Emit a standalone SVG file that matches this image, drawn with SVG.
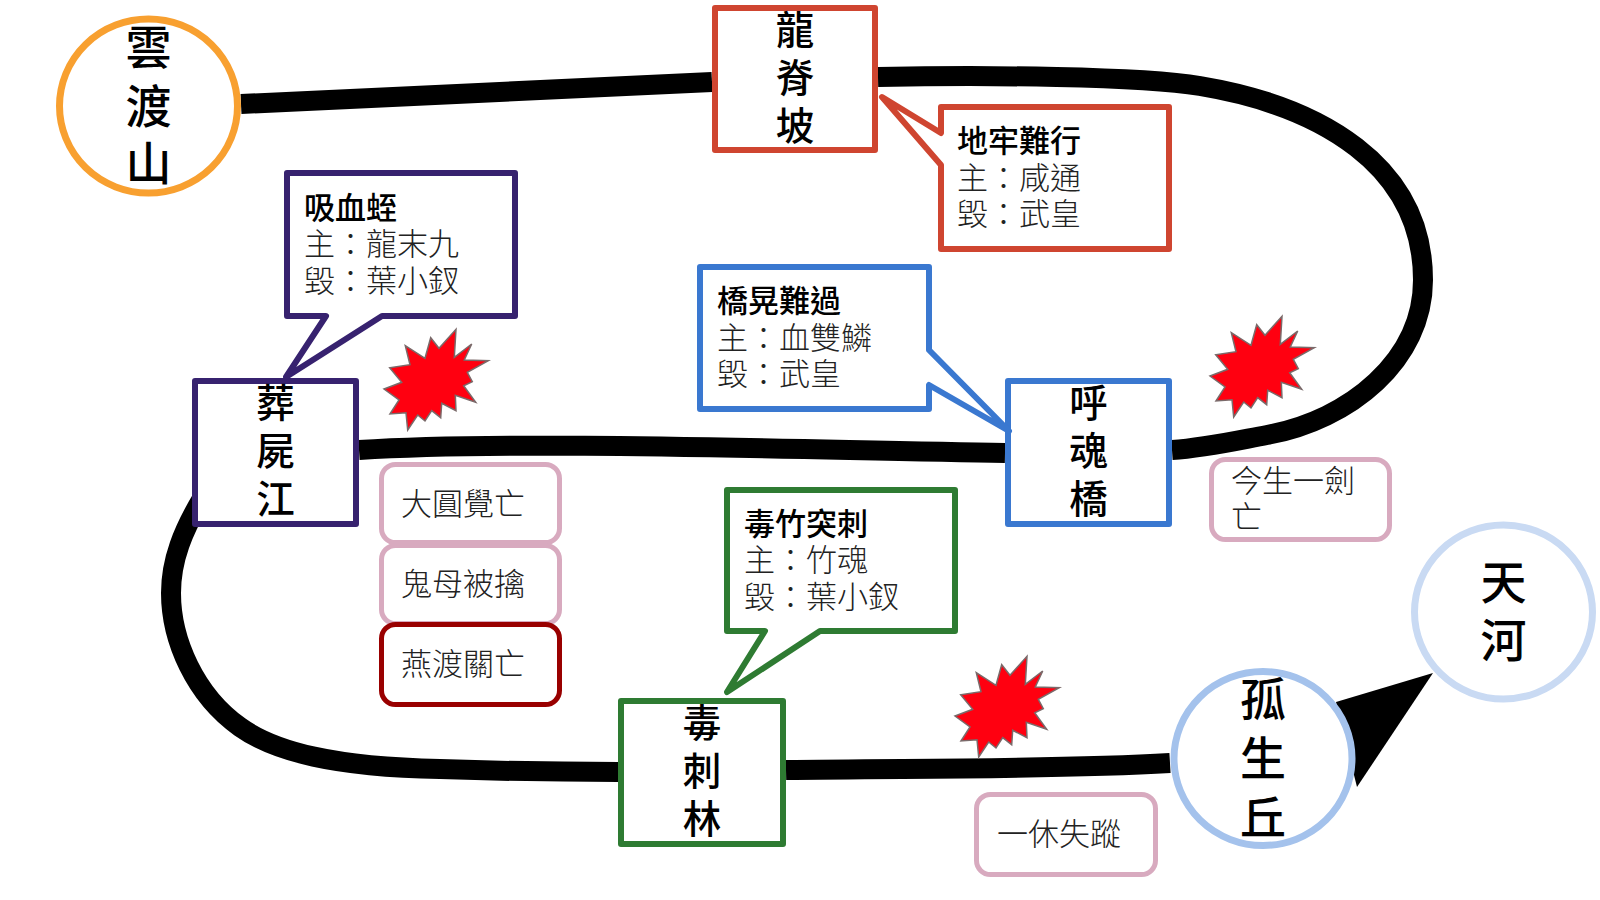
<svg xmlns="http://www.w3.org/2000/svg" xmlns:xlink="http://www.w3.org/1999/xlink" width="1600" height="900" viewBox="0 0 1600 900">
<style>
text{font-family:"Noto Sans CJK TC","Noto Sans CJK SC",sans-serif;fill:#000}
.t{font-size:38.500px;font-weight:500;text-anchor:middle}
.c{font-size:46px;font-weight:500;text-anchor:middle}
.h{font-size:31px;font-weight:500}
.b{font-size:31px;font-weight:300;fill:#222}
.n{fill:#fff;stroke-width:6;stroke-linejoin:round}
.e{fill:#fff;stroke-width:7}
.p{fill:#fff;stroke-width:5}
.line{fill:none;stroke:#000;stroke-width:20}
.star{fill:#ff0010;stroke:#7a6a6a;stroke-width:1.5}
</style>
<defs>
<polygon id="burst" points="81,9.3 79.3,37.3 96.7,24 89.3,40 113.3,40.7 92.3,52.3 97.3,61.7 88.7,65.7 100.7,82.3 80.3,75.3 81,90.7 66.7,83.3 65.7,97.7 56.7,90.7 50,101 42.7,95 32.7,110 31,92.7 15,94 24,80 9,69 26.7,62.3 14.7,47.7 35,44.7 30.3,25.7 50,38.3 55.7,17.7 64,28.3"/>
</defs>
<g id="connectors">
<path class="line" d="M241 104L712 82"/>
<path class="line" d="M878 77C985 75 1140 76 1200 86C1320 106 1423 165 1423 280C1423 360 1350 420 1267 435C1235 441 1205 448 1172 450"/>
<path class="line" d="M1005 453C800 450 520 440 359 450"/>
<path class="line" d="M203 497C183 530 171 560 171 593C171 640 195 695 240 727C275 752 335 767 440 769C500 771 560 772 618 772"/>
<path class="line" d="M786 770C900 768 1050 770 1170 763"/>
<polygon points="1336,702 1433,673 1357,787" fill="#000"/>
</g>
<g id="yundushan"><ellipse class="e" cx="148.500" cy="106" rx="89" ry="87" stroke="#f8a030"/><text class="c" x="148.500" y="64">雲</text><text class="c" x="148.500" y="123">渡</text><text class="c" x="148.500" y="180">山</text></g>
<g id="longjipo"><rect class="n" x="715" y="8" width="160" height="142" stroke="#cf4530"/><text class="t" x="795" y="44">龍</text><text class="t" x="795" y="92">脊</text><text class="t" x="795" y="140">坡</text></g>
<g id="zangshijiang"><rect class="n" x="195" y="381" width="161" height="143" stroke="#37226f"/><text class="t" x="275.500" y="417">葬</text><text class="t" x="275.500" y="465">屍</text><text class="t" x="275.500" y="513">江</text></g>
<g id="huhunqiao"><rect class="n" x="1008" y="381" width="161" height="143" stroke="#3a78d0"/><text class="t" x="1088.500" y="417">呼</text><text class="t" x="1088.500" y="465">魂</text><text class="t" x="1088.500" y="513">橋</text></g>
<g id="ducilin"><rect class="n" x="621" y="701" width="162" height="143" stroke="#2e7b32"/><text class="t" x="702" y="737">毒</text><text class="t" x="702" y="785">刺</text><text class="t" x="702" y="833">林</text></g>
<g id="gushengqiu"><ellipse class="e" cx="1263" cy="758.500" rx="89" ry="87" stroke="#a4c2ec"/><text class="c" x="1263" y="716">孤</text><text class="c" x="1263" y="775">生</text><text class="c" x="1263" y="834">丘</text></g>
<g id="tianhe"><ellipse class="e" cx="1503.500" cy="612" rx="89" ry="87" stroke="#c9daf3"/><text class="c" x="1503.500" y="599">天</text><text class="c" x="1503.500" y="657">河</text></g>
<g id="callout-xixuezhi"><path class="n" d="M287 173H515V316H382L286 377L326 316H287Z" stroke="#37226f"/><text class="h" x="304" y="219">吸血蛭</text><text class="b" x="304" y="255">主：龍末九</text><text class="b" x="304" y="292">毀：葉小釵</text></g>
<g id="callout-dilao"><path class="n" d="M941 107H1169V249H941V165L882 97L941 133Z" stroke="#cf4530"/><text class="h" x="957" y="152">地牢難行</text><text class="b" x="957" y="189">主：咸通</text><text class="b" x="957" y="225">毀：武皇</text></g>
<g id="callout-qiaohuang"><path class="n" d="M700 267H929V350L1009 431L929 385V409H700Z" stroke="#3a78d0"/><text class="h" x="717" y="312">橋晃難過</text><text class="b" x="717" y="349">主：血雙鱗</text><text class="b" x="717" y="385">毀：武皇</text></g>
<g id="callout-duzhu"><path class="n" d="M727 490H955V631H820L727 692L765 631H727Z" stroke="#2e7b32"/><text class="h" x="744" y="535">毒竹突刺</text><text class="b" x="744" y="571">主：竹魂</text><text class="b" x="744" y="608">毀：葉小釵</text></g>
<g id="tag-dayuanjue"><rect class="p" x="381.500" y="464.500" width="178" height="78" rx="14" stroke="#d8aabf"/><text class="b" x="401" y="515">大圓覺亡</text></g>
<g id="tag-guimu"><rect class="p" x="381.500" y="545.500" width="178" height="78" rx="14" stroke="#d8aabf"/><text class="b" x="401" y="595">鬼母被擒</text></g>
<g id="tag-yandu"><rect class="p" x="381.500" y="624.500" width="178" height="80" rx="14" stroke="#990000"/><text class="b" x="401" y="675">燕渡關亡</text></g>
<g id="tag-jinsheng"><rect class="p" x="1211.500" y="459.500" width="178" height="80" rx="14" stroke="#d8aabf"/><text class="b" x="1231" y="492">今生一劍</text><text class="b" x="1231" y="528">亡</text></g>
<g id="tag-yixiu"><rect class="p" x="976.500" y="794.500" width="179" height="80" rx="14" stroke="#d8aabf"/><text class="b" x="997" y="845">一休失蹤</text></g>
<use xlink:href="#burst" href="#burst" class="star" x="375" y="320"/>
<use xlink:href="#burst" href="#burst" class="star" x="1201" y="307"/>
<use xlink:href="#burst" href="#burst" class="star" x="946" y="647"/>
</svg>
